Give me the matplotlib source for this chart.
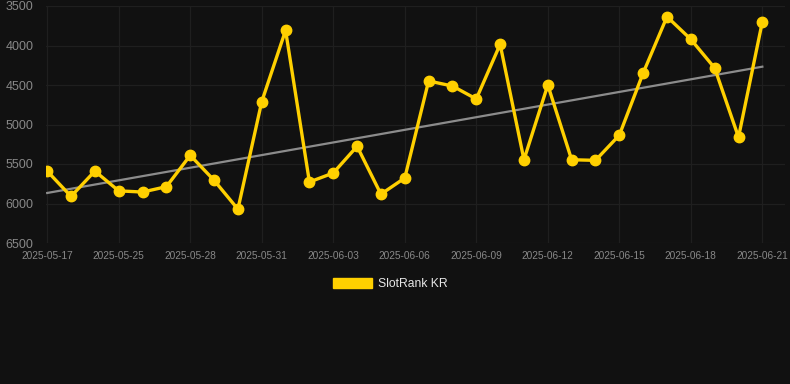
import matplotlib
matplotlib.use("Agg")
import matplotlib.pyplot as plt
import matplotlib.patches as mpatches
import numpy as np

# daily rank values (y axis is inverted: lower rank number = higher on chart)
dates = ["2025-05-17", "2025-05-23", "2025-05-24", "2025-05-25", "2025-05-26",
         "2025-05-27", "2025-05-28", "2025-05-29", "2025-05-30", "2025-05-31",
         "2025-06-01", "2025-06-02", "2025-06-03", "2025-06-04", "2025-06-05",
         "2025-06-06", "2025-06-07", "2025-06-08", "2025-06-09", "2025-06-10",
         "2025-06-11", "2025-06-12", "2025-06-13", "2025-06-14", "2025-06-15",
         "2025-06-16", "2025-06-17", "2025-06-18", "2025-06-19", "2025-06-20",
         "2025-06-21"]
ranks = [5590, 5910, 5590, 5840, 5855, 5787, 5390, 5706, 6072, 4711,
         3808, 5728, 5614, 5276, 5882, 5677, 4449, 4513, 4677, 3985,
         5446, 4500, 5446, 5454, 5135, 4348, 3635, 3922, 4285, 5161,
         3699]
y_ticks = [3500, 4000, 4500, 5000, 5500, 6000, 6500]
series_name = "SlotRank KR"

bg = "#111111"
yellow = "#FFD000"
grid_col = "#1f1f1f"
label_col = "#888888"

plt.rcParams['font.family'] = ['Liberation Sans', 'DejaVu Sans']

fig = plt.figure(figsize=(7.9, 3.84), dpi=100, facecolor=bg)
ax = fig.add_axes([46 / 790, 1 - 243 / 384, (785 - 46) / 790, (243 - 6) / 384])
ax.set_facecolor(bg)

x = np.arange(len(ranks))

# trend line (least squares fit)
k, b = np.polyfit(x, ranks, 1)
ax.plot([x[0], x[-1]], [k * x[0] + b, k * x[-1] + b], color="#8c8c8c", lw=1.6, zorder=2)

ax.plot(x, ranks, color=yellow, lw=2.4, marker="o", markersize=7.5, zorder=3)

ax.set_ylim(6500, 3500)
ax.set_yticks(y_ticks)
ax.set_xlim(-0.05, 30.95)
ax.set_xticks(x[::3])
ax.set_xticklabels(dates[::3])

ax.grid(True, color=grid_col, lw=0.9)
ax.set_axisbelow(True)
for s in ax.spines.values():
    s.set_visible(False)
ax.tick_params(length=0, colors=label_col)
ax.tick_params(axis="y", labelsize=9, pad=9)
ax.tick_params(axis="x", labelsize=7.3, pad=6)

handle = mpatches.Patch(color=yellow, label=series_name)
fig.legend(handles=[handle], loc="center", bbox_to_anchor=(0.494, 1 - 284 / 384),
           frameon=False, labelcolor="#e6e6e6", fontsize=8.7,
           handlelength=3.25, handleheight=0.9, handletextpad=0.5)

fig.savefig("out.png", dpi=100, facecolor=bg)
